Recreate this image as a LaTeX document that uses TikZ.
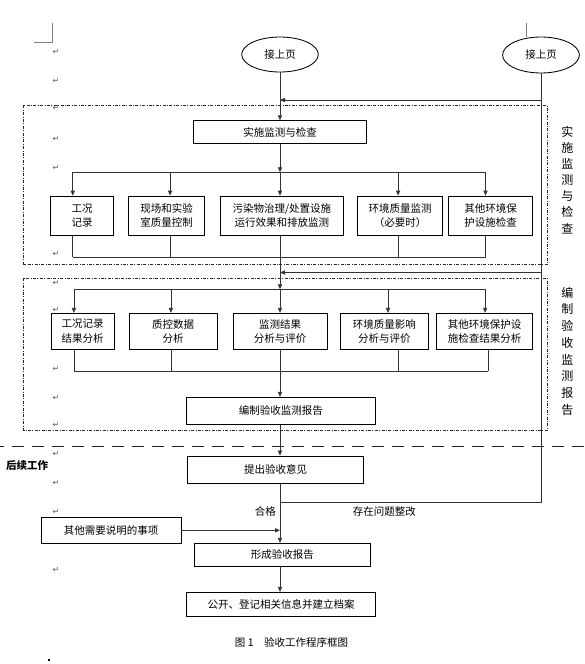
\documentclass[tikz,border=0pt]{standalone}
\usepackage{fontspec}
\setmainfont{Noto Sans CJK SC}
\newfontfamily\djv{DejaVu Sans}
\usetikzlibrary{arrows.meta,shapes.geometric}
\begin{document}
\begin{tikzpicture}[x=1pt,y=-1pt,
  box/.style={draw=black,line width=0.85pt,inner sep=0pt,align=center,font=\fontsize{10.5}{14.5}\selectfont},
  ell/.style={draw=black,line width=0.85pt,ellipse,inner sep=0pt,font=\fontsize{10.5}{12}\selectfont},
  conn/.style={draw=black!80,line width=0.8pt},
  arr/.style={conn,-{Triangle[length=5pt,width=4.2pt]}},
  frame/.style={draw=black!85,line width=0.55pt,dash pattern=on 3pt off 1.5pt on 0.8pt off 1.5pt},
  pmark/.style={text=black!65,font=\djv\fontsize{8}{8}\selectfont,inner sep=0pt},
  lbl/.style={font=\fontsize{10.5}{12}\selectfont,inner sep=0pt},
  side/.style={align=center,inner sep=0pt}]
\useasboundingbox (0,0) rectangle (585,664);

% crop marks
\draw[black!50,line width=0.5pt] (52.2,23) -- (52.2,42) -- (33.6,42);
\draw[black!50,line width=0.5pt] (526,23) -- (526,37);

% paragraph marks
\foreach \y in {51.7,80.7,108.3,139.3,167.7,254,283.3,310,368.7,397.7,425.3,454,483.3,511.7,570}
  \node[pmark] at (56,\y) {↵};

% frames
\draw[frame] (23.5,105.3) rectangle (547.5,264.3);
\draw[frame] (23.5,278.3) rectangle (547.5,430.3);
\draw[line width=1.8pt,black!85,dash pattern=on 12.7pt off 7.3pt,dash phase=8.3pt] (0,446.5) -- (585,446.5);

% side texts
\node[side,font=\fontsize{12}{16.1}\selectfont] (side1) at (567.3,180) {实\\施\\监\\测\\与\\检\\查};
\node[side,font=\fontsize{12}{16.75}\selectfont] (side2) at (567.3,351.3) {编\\制\\验\\收\\监\\测\\报\\告};
\node[lbl,anchor=west,font=\bfseries\fontsize{10.5}{12}\selectfont] (later) at (6,466) {后续工作};

% ellipses
\node[ell,minimum width=76.6pt,minimum height=35pt] (e1) at (280,54.5) {接上页};
\node[ell,minimum width=76.8pt,minimum height=36pt] (e2) at (541,55) {接上页};

% boxes
\node[box,minimum width=172.4pt,minimum height=22.6pt] (s1) at (280,132) {实施监测与检查};

\node[box,minimum width=63.4pt,minimum height=39.3pt] (a1) at (82.1,215.7) {工况\\记录};
\node[box,minimum width=76.1pt,minimum height=39.3pt] (a2) at (166.5,215.7) {现场和实验\\室质量控制};
\node[box,minimum width=122.8pt,minimum height=39.3pt] (a3) at (281.9,215.7) {污染物治理/处置设施\\运行效果和排放监测};
\node[box,minimum width=85pt,minimum height=39.3pt] (a4) at (400,215.7) {环境质量监测\\（必要时）};
\node[box,minimum width=84.7pt,minimum height=39.3pt] (a5) at (490.5,215.7) {其他环境保\\护设施检查};

\node[box,minimum width=63.1pt,minimum height=36pt] (b1) at (82.65,331.3) {工况记录\\结果分析};
\node[box,minimum width=88.1pt,minimum height=36pt] (b2) at (173.15,331.3) {质控数据\\分析};
\node[box,minimum width=94pt,minimum height=36pt] (b3) at (280.2,331.3) {监测结果\\分析与评价};
\node[box,minimum width=88.1pt,minimum height=36pt] (b4) at (384.35,331.3) {环境质量影响\\分析与评价};
\node[box,minimum width=95.9pt,minimum height=36pt] (b5) at (484.55,331.3) {其他环境保护设\\施检查结果分析};

\node[box,minimum width=188.4pt,minimum height=27.2pt] (rep) at (280.8,410.9) {编制验收监测报告};
\node[box,minimum width=176.5pt,minimum height=27.3pt] (opin) at (275.5,469.65) {提出验收意见};
\node[box,minimum width=140.3pt,minimum height=26pt] (other) at (111.15,530.3) {其他需要说明的事项};
\node[box,minimum width=176.3pt,minimum height=22.7pt] (form) at (282.35,554.65) {形成验收报告};
\node[box,minimum width=188.8pt,minimum height=23.7pt] (pub) at (281,604.15) {公开、登记相关信息并建立档案};

\node[lbl] (cap) at (291.5,642.3) {图 1　验收工作程序框图};
\fill (47.5,659) rectangle (49.5,661);

% connectors
\coordinate (c0) at (280,0);
\coordinate (r1) at (541,100);
\coordinate (r2) at (541,272.5);
\coordinate (j0) at (280,502.3);

\draw[conn] (j0) -- (j0 -| e2.south) -- (e2.south);
\draw[arr] (r1) -- (c0 |- r1);
\draw[arr] (r2) -- (c0 |- r2);
\draw[arr] (e1.south) -- (c0 |- s1.north);

\foreach \x [count=\i] in {72.8,170.1,280,398.1,485.5} {
  \coordinate (p\i) at (\x,172.3);
  \coordinate (q\i) at (\x,257.3);
}
\foreach \x [count=\i] in {73.9,170.9,280,388,485.1} \coordinate (u\i) at (\x,289.3);
\foreach \x [count=\i] in {73.9,170.9,280,398.5,488.1} \coordinate (v\i) at (\x,371);

\draw[conn] (p1) -- (p5);
\draw[conn] (q1) -- (q5);
\draw[conn] (u1) -- (u5);
\draw[conn] (v1) -- (v5);
\draw[arr] (c0 |- s1.south) -- (p3);
\foreach \i in {1,...,5} {
  \draw[arr] (p\i) -- (p\i |- a\i.north);
  \draw[conn] (q\i |- a\i.south) -- (q\i);
  \draw[arr] (u\i) -- (u\i |- b\i.north);
  \draw[conn] (v\i |- b\i.south) -- (v\i);
}
\draw[arr] (q3) -- (u3);
\draw[arr] (v3) -- (c0 |- rep.north);
\draw[arr] (c0 |- rep.south) -- (c0 |- opin.north);
\draw[arr] (c0 |- opin.south) -- (c0 |- form.north);
\draw[arr] (other.east) -- (c0 |- other.east);
\draw[arr] (c0 |- form.south) -- (c0 |- pub.north);

\node[lbl,anchor=east] (ok) at (276,511.7) {合格};
\node[lbl,anchor=west] (fix) at (352.6,511.7) {存在问题整改};
\end{tikzpicture}
\end{document}
